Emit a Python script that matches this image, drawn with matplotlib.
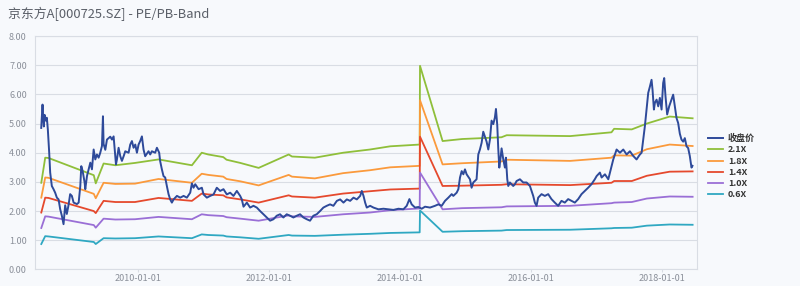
from datetime import datetime, timedelta
import matplotlib
matplotlib.use("Agg")
import matplotlib.pyplot as plt

# closing price (decimal year, value)
price_t = [2008.519, 2008.539, 2008.549, 2008.559, 2008.570, 2008.590, 2008.605, 2008.620, 2008.641, 2008.656,
           2008.681, 2008.707, 2008.732, 2008.758, 2008.784, 2008.809, 2008.834, 2008.860, 2008.885, 2008.910,
           2008.936, 2008.961, 2008.987, 2009.012, 2009.063, 2009.089, 2009.114, 2009.129, 2009.150, 2009.180,
           2009.190, 2009.216, 2009.241, 2009.267, 2009.292, 2009.318, 2009.343, 2009.368, 2009.394, 2009.419,
           2009.445, 2009.460, 2009.470, 2009.496, 2009.521, 2009.572, 2009.598, 2009.623, 2009.648, 2009.659,
           2009.674, 2009.699, 2009.725, 2009.750, 2009.776, 2009.801, 2009.852, 2009.877, 2009.903, 2009.928,
           2009.954, 2009.979, 2010.005, 2010.030, 2010.056, 2010.081, 2010.106, 2010.157, 2010.183, 2010.208,
           2010.259, 2010.285, 2010.320, 2010.335, 2010.361, 2010.386, 2010.412, 2010.437, 2010.463, 2010.488,
           2010.514, 2010.540, 2010.591, 2010.642, 2010.693, 2010.743, 2010.794, 2010.820, 2010.845, 2010.871,
           2010.922, 2010.972, 2010.998, 2011.049, 2011.100, 2011.151, 2011.201, 2011.252, 2011.303, 2011.354,
           2011.405, 2011.456, 2011.507, 2011.558, 2011.583, 2011.609, 2011.660, 2011.710, 2011.761, 2011.812,
           2011.863, 2011.914, 2011.965, 2012.016, 2012.067, 2012.117, 2012.168, 2012.219, 2012.270, 2012.321,
           2012.372, 2012.423, 2012.474, 2012.525, 2012.576, 2012.626, 2012.677, 2012.728, 2012.779, 2012.830,
           2012.881, 2012.932, 2012.983, 2013.034, 2013.084, 2013.135, 2013.186, 2013.237, 2013.288, 2013.339,
           2013.390, 2013.415, 2013.441, 2013.466, 2013.491, 2013.542, 2013.593, 2013.669, 2013.746, 2013.822,
           2013.898, 2013.975, 2014.051, 2014.102, 2014.143, 2014.178, 2014.229, 2014.280, 2014.331, 2014.382,
           2014.458, 2014.534, 2014.585, 2014.636, 2014.687, 2014.738, 2014.789, 2014.814, 2014.865, 2014.891,
           2014.916, 2014.942, 2014.967, 2014.992, 2015.018, 2015.069, 2015.094, 2015.120, 2015.170, 2015.196,
           2015.221, 2015.247, 2015.272, 2015.298, 2015.323, 2015.349, 2015.374, 2015.399, 2015.425, 2015.450,
           2015.466, 2015.486, 2015.501, 2015.517, 2015.537, 2015.552, 2015.578, 2015.603, 2015.618, 2015.639,
           2015.654, 2015.679, 2015.730, 2015.756, 2015.781, 2015.832, 2015.883, 2015.934, 2015.985, 2016.010,
           2016.036, 2016.061, 2016.087, 2016.112, 2016.163, 2016.214, 2016.265, 2016.315, 2016.366, 2016.417,
           2016.468, 2016.519, 2016.570, 2016.621, 2016.672, 2016.723, 2016.774, 2016.824, 2016.875, 2016.926,
           2016.977, 2017.003, 2017.053, 2017.079, 2017.130, 2017.181, 2017.232, 2017.257, 2017.282, 2017.308,
           2017.359, 2017.410, 2017.461, 2017.511, 2017.562, 2017.613, 2017.664, 2017.690, 2017.715, 2017.740,
           2017.766, 2017.791, 2017.817, 2017.842, 2017.857, 2017.878, 2017.893, 2017.919, 2017.944, 2017.969,
           2017.995, 2018.020, 2018.036, 2018.056, 2018.081, 2018.112, 2018.148, 2018.173, 2018.198, 2018.224,
           2018.249, 2018.275, 2018.300, 2018.326, 2018.351, 2018.377, 2018.402, 2018.427, 2018.453, 2018.468]
price_v = [4.85, 5.65, 5.20, 4.90, 5.30, 5.10, 5.20, 4.80, 4.00, 3.32,
           2.86, 2.75, 2.63, 2.46, 2.40, 2.06, 1.84, 1.55, 2.20, 1.90,
           2.20, 2.58, 2.52, 2.29, 2.24, 2.29, 2.86, 3.54, 3.37, 2.98,
           2.75, 3.20, 3.43, 3.66, 3.43, 4.11, 3.77, 3.94, 3.83, 4.00,
           4.23, 5.25, 4.30, 4.10, 4.45, 4.55, 4.45, 4.56, 3.88, 3.60,
           3.77, 4.17, 3.88, 3.72, 3.88, 4.05, 4.00, 4.28, 4.40, 4.17,
           4.28, 4.00, 4.28, 4.40, 4.56, 4.11, 3.88, 4.05, 3.94, 4.05,
           4.00, 4.17, 4.00, 3.71, 3.43, 3.20, 3.15, 2.86, 2.58, 2.40,
           2.29, 2.40, 2.52, 2.46, 2.52, 2.46, 2.63, 2.95, 2.80, 2.92,
           2.75, 2.80, 2.57, 2.46, 2.52, 2.57, 2.80, 2.69, 2.75, 2.57,
           2.63, 2.52, 2.69, 2.52, 2.40, 2.15, 2.29, 2.12, 2.18, 2.12,
           2.00, 1.89, 1.78, 1.67, 1.72, 1.84, 1.89, 1.78, 1.89, 1.84,
           1.78, 1.84, 1.89, 1.78, 1.72, 1.67, 1.84, 1.89, 2.00, 2.12,
           2.18, 2.23, 2.18, 2.35, 2.40, 2.29, 2.40, 2.35, 2.46, 2.40,
           2.52, 2.69, 2.52, 2.29, 2.12, 2.18, 2.12, 2.06, 2.08, 2.06,
           2.04, 2.08, 2.06, 2.18, 2.41, 2.23, 2.12, 2.14, 2.08, 2.15,
           2.12, 2.18, 2.23, 2.18, 2.35, 2.46, 2.58, 2.52, 2.63, 2.75,
           3.15, 3.37, 3.26, 3.43, 3.26, 3.09, 2.80, 2.98, 3.09, 3.94,
           4.11, 4.34, 4.72, 4.55, 4.38, 4.11, 4.45, 5.10, 4.98, 5.21,
           5.50, 4.94, 4.15, 3.49, 3.83, 4.15, 3.77, 3.49, 3.83, 3.09,
           2.86, 2.98, 2.86, 2.92, 3.03, 3.09, 2.98, 2.98, 2.86, 2.69,
           2.52, 2.29, 2.18, 2.46, 2.58, 2.52, 2.58, 2.41, 2.29, 2.18,
           2.35, 2.29, 2.41, 2.35, 2.29, 2.41, 2.58, 2.69, 2.80, 2.92,
           3.09, 3.20, 3.32, 3.15, 3.26, 3.09, 3.55, 3.77, 3.94, 4.11,
           4.00, 4.11, 3.94, 4.05, 3.89, 3.77, 3.94, 4.00, 4.45, 4.91,
           5.48, 6.05, 6.27, 6.50, 6.16, 5.48, 5.71, 5.82, 5.59, 5.88,
           5.48, 6.39, 6.56, 5.93, 5.31, 5.59, 5.82, 5.99, 5.59, 5.19,
           5.02, 4.65, 4.45, 4.38, 4.50, 4.22, 4.16, 3.89, 3.49, 3.55]

# PB band lines share the same breakpoints
band_t = [2008.52, 2008.58, 2008.63, 2009.32, 2009.35, 2009.47, 2009.65, 2009.95, 2010.31, 2010.82,
          2010.97, 2011.07, 2011.30, 2011.35, 2011.56, 2011.84, 2012.30, 2012.35, 2012.70, 2013.13,
          2013.54, 2013.85, 2014.30, 2014.305, 2014.65, 2014.95, 2015.55, 2015.63, 2016.60, 2017.23,
          2017.27, 2017.54, 2017.77, 2018.12, 2018.47]
band_21 = [2.97, 3.83, 3.82, 3.23, 2.95, 3.63, 3.57, 3.65, 3.77, 3.57, 4.00, 3.94, 3.85, 3.76, 3.65, 3.48,
           3.94, 3.87, 3.83, 4.00, 4.11, 4.22, 4.28, 6.98, 4.40, 4.47, 4.53, 4.60, 4.57, 4.70, 4.82, 4.80,
           5.00, 5.24, 5.18]
band_18 = [2.46, 3.15, 3.14, 2.59, 2.44, 2.97, 2.93, 2.94, 3.10, 2.97, 3.28, 3.24, 3.18, 3.10, 3.02, 2.88,
           3.24, 3.18, 3.12, 3.30, 3.40, 3.50, 3.55, 5.80, 3.60, 3.64, 3.70, 3.76, 3.72, 3.83, 3.91, 3.90,
           4.12, 4.28, 4.23]
band_14 = [1.95, 2.46, 2.45, 2.00, 1.93, 2.35, 2.31, 2.31, 2.45, 2.35, 2.60, 2.57, 2.54, 2.47, 2.40, 2.29,
           2.54, 2.50, 2.46, 2.60, 2.68, 2.74, 2.77, 4.55, 2.86, 2.87, 2.90, 2.92, 2.89, 2.97, 3.03, 3.03,
           3.21, 3.35, 3.36]
band_10 = [1.42, 1.82, 1.81, 1.52, 1.43, 1.74, 1.71, 1.72, 1.80, 1.72, 1.89, 1.86, 1.83, 1.79, 1.74, 1.67,
           1.85, 1.82, 1.80, 1.89, 1.95, 2.03, 2.09, 3.32, 2.06, 2.10, 2.13, 2.16, 2.18, 2.27, 2.29, 2.31,
           2.43, 2.50, 2.49]
band_06 = [0.87, 1.14, 1.13, 0.94, 0.87, 1.07, 1.06, 1.07, 1.13, 1.07, 1.20, 1.18, 1.16, 1.13, 1.10, 1.05,
           1.18, 1.16, 1.15, 1.19, 1.22, 1.25, 1.27, 2.02, 1.29, 1.31, 1.33, 1.35, 1.36, 1.41, 1.42, 1.43,
           1.50, 1.54, 1.53]

series_names = ["收盘价", "2.1X", "1.8X", "1.4X", "1.0X", "0.6X"]
colors = ["#2e4a9a", "#8fbf3a", "#fb9a3c", "#e5492d", "#9a6fd6", "#2fa8c2"]
y_ticks = [0, 1, 2, 3, 4, 5, 6, 7, 8]
x_ticks = ["2010-01-01", "2012-01-01", "2014-01-01", "2016-01-01", "2018-01-01"]


def to_date(y):
    year = int(y)
    return datetime(year, 1, 1) + timedelta(days=(y - year) * 365.25)


plt.rcParams['font.family'] = ['Noto Sans CJK SC', 'DejaVu Sans']
bg = "#f7f9fc"
fig = plt.figure(figsize=(8, 2.86), dpi=100, facecolor=bg)
ax = fig.add_axes([0.044, 0.058, 0.827, 0.816], facecolor=bg)

ax.plot([to_date(t) for t in price_t], price_v, color=colors[0], lw=1.4, label=series_names[0], zorder=5)
bt = [to_date(t) for t in band_t]
for vals, name, c in zip([band_21, band_18, band_14, band_10, band_06], series_names[1:], colors[1:]):
    ax.plot(bt, vals, color=c, lw=1.3, label=name, zorder=4)

ax.set_ylim(0, 8)
ax.set_yticks(y_ticks)
ax.set_yticklabels(["%.2f" % v for v in y_ticks])
ax.set_xlim(to_date(2008.427), to_date(2018.534))
ax.set_xticks([datetime.strptime(s, "%Y-%m-%d") for s in x_ticks])
ax.set_xticklabels(x_ticks)
ax.grid(axis='y', color="#d9dde4", lw=0.8)
ax.set_axisbelow(True)
for s in ax.spines.values():
    s.set_color("#d9dde4")
    s.set_linewidth(0.8)
ax.tick_params(axis='both', colors="#d9dde4", labelcolor="#8a8f99", labelsize=6.5)
ax.tick_params(axis='x', length=2, pad=1)
ax.tick_params(axis='y', length=0, pad=6)

fig.text(0.01, 0.952, "京东方A[000725.SZ] - PE/PB-Band", fontsize=9.3, color="#5a5f68", va='center')

leg = fig.legend(loc='upper left', bbox_to_anchor=(0.875, 0.56), frameon=False, fontsize=6.5,
                 handlelength=1.6, handletextpad=0.6, labelspacing=0.25)
for t in leg.get_texts():
    t.set_color("#333333")
    t.set_fontweight('bold')

fig.savefig("out.png", dpi=100, facecolor=bg)
